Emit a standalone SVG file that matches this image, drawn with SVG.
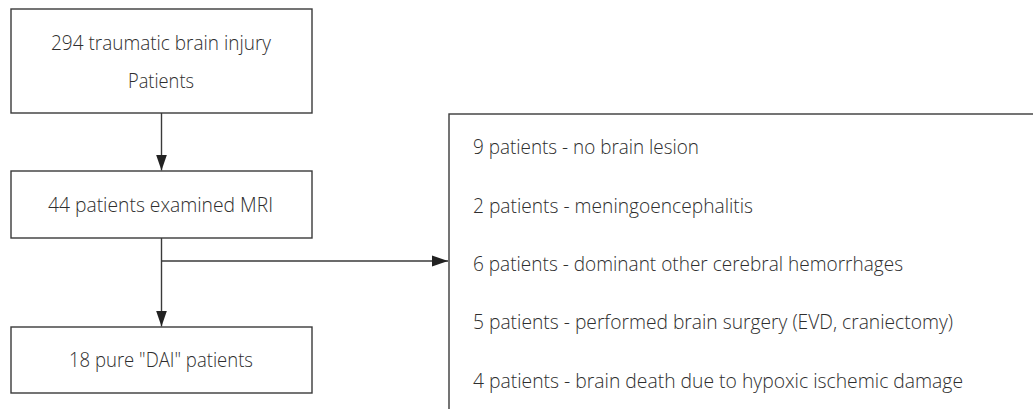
<svg xmlns="http://www.w3.org/2000/svg" width="1033" height="409" viewBox="0 0 1033 409">
  <style>
    .box { fill: #ffffff; stroke: #3a3a3a; stroke-width: 1.4; }
    .line { fill: none; stroke: #3a3a3a; stroke-width: 1.4; }
    .t { font-family: "Open Sans", "Lato", "Liberation Sans", sans-serif; font-weight: 300; font-size: 21px; fill: #2e2e2e; }
    .c { text-anchor: middle; }
  </style>
  <defs>
    <marker id="arrow" markerUnits="userSpaceOnUse" markerWidth="16" markerHeight="12" refX="16" refY="6" orient="auto">
      <path d="M0,0.5 L16,6 L0,11.5 Z" fill="#222222"/>
    </marker>
  </defs>
  <rect width="1033" height="409" fill="#ffffff"/>

  <g id="connectors">
    <line class="line" x1="161.5" y1="113" x2="161.5" y2="170.5" marker-end="url(#arrow)"/>
    <line class="line" x1="161.5" y1="238" x2="161.5" y2="326.5" marker-end="url(#arrow)"/>
    <line class="line" x1="161.5" y1="261" x2="448" y2="261" marker-end="url(#arrow)"/>
  </g>

  <g id="node-tbi">
    <rect class="box" x="11" y="9" width="301" height="104"/>
    <text class="t c" x="161" y="50" textLength="220" lengthAdjust="spacingAndGlyphs">294 traumatic brain injury</text>
    <text class="t c" x="161" y="88" textLength="66" lengthAdjust="spacingAndGlyphs">Patients</text>
  </g>

  <g id="node-mri">
    <rect class="box" x="11" y="171" width="301" height="67"/>
    <text class="t c" x="160.5" y="212" textLength="225" lengthAdjust="spacingAndGlyphs">44 patients examined MRI</text>
  </g>

  <g id="node-dai">
    <rect class="box" x="11" y="327" width="301" height="66"/>
    <text class="t c" x="161" y="367" textLength="184" lengthAdjust="spacingAndGlyphs">18 pure "DAI" patients</text>
  </g>

  <g id="node-excluded">
    <rect class="box" x="449" y="114" width="700" height="400"/>
    <text class="t" x="473" y="154" textLength="226" lengthAdjust="spacingAndGlyphs">9 patients - no brain lesion</text>
    <text class="t" x="473" y="213" textLength="280" lengthAdjust="spacingAndGlyphs">2 patients - meningoencephalitis</text>
    <text class="t" x="473" y="271" textLength="430" lengthAdjust="spacingAndGlyphs">6 patients - dominant other cerebral hemorrhages</text>
    <text class="t" x="473" y="329" textLength="480" lengthAdjust="spacingAndGlyphs">5 patients - performed brain surgery (EVD, craniectomy)</text>
    <text class="t" x="473" y="388" textLength="490" lengthAdjust="spacingAndGlyphs">4 patients - brain death due to hypoxic ischemic damage</text>
  </g>
</svg>
